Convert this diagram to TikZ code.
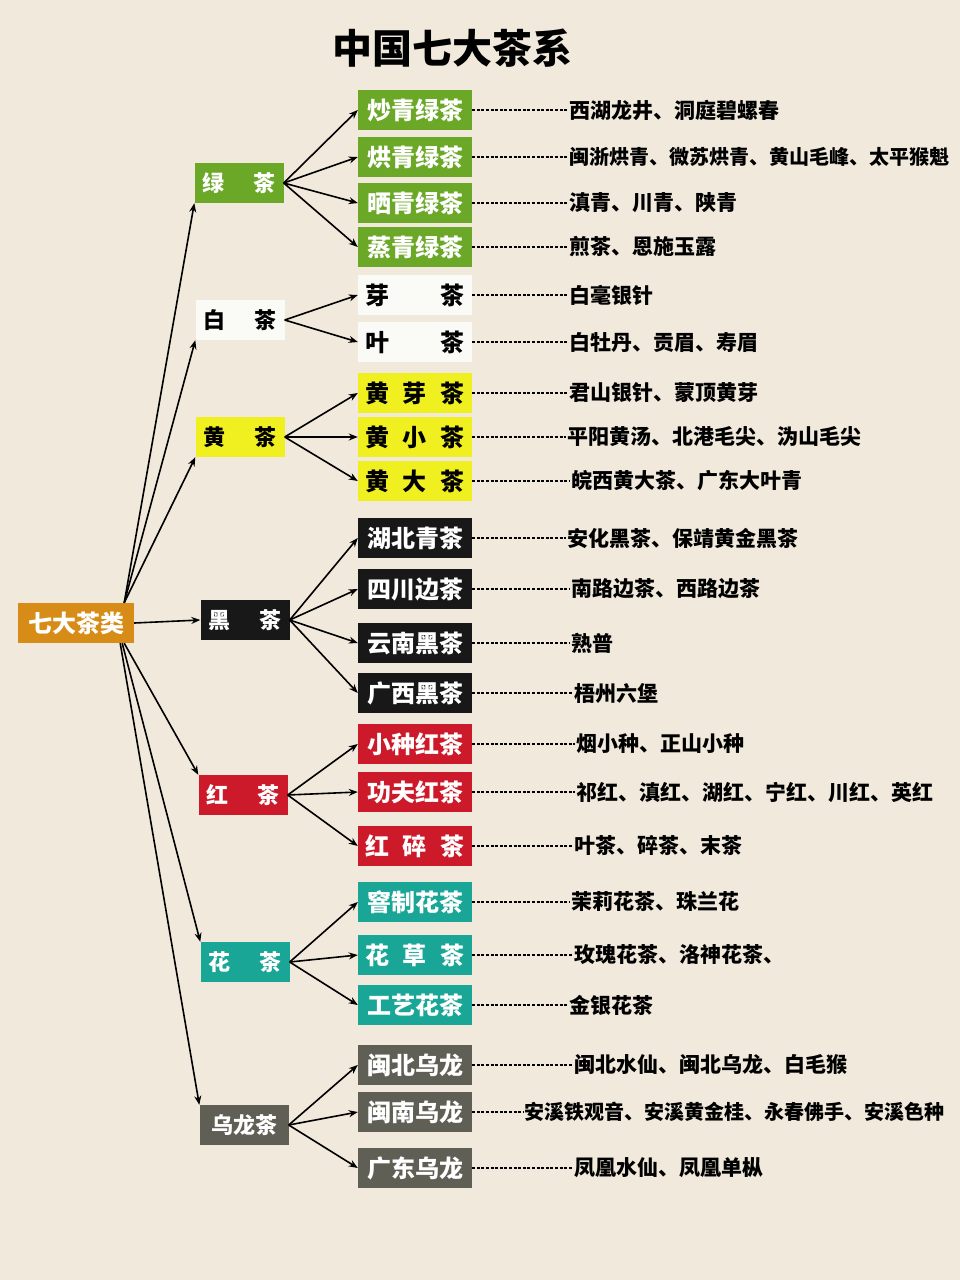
\documentclass[tikz,border=0pt]{standalone}
\usepackage{fontspec}
\setmainfont{Noto Sans CJK SC}
\usepackage{xcolor}
\usepackage{tikz}
\usetikzlibrary{calc,arrows.meta}

\definecolor{paper}{RGB}{240,233,220}
\definecolor{rootorange}{RGB}{214,140,22}
\definecolor{teagreen}{RGB}{108,168,40}
\definecolor{teawhite}{RGB}{250,250,246}
\definecolor{teayellow}{RGB}{240,240,32}
\definecolor{teablack}{RGB}{24,24,24}
\definecolor{teared}{RGB}{204,26,42}
\definecolor{teateal}{RGB}{26,166,150}
\definecolor{teagray}{RGB}{96,95,86}

\newcommand{\spreadcat}[1]{\makebox[74pt]{#1}}
\newcommand{\spreadsub}[1]{\makebox[100pt]{#1}}

\tikzset{
    catbox/.style 2 args={fill=#1, text=#2, inner sep=0pt, minimum width=89pt, minimum height=40pt,
        font=\bfseries\fontsize{22}{22}\selectfont},
    subbox/.style 2 args={fill=#1, text=#2, inner sep=0pt, minimum width=114pt, minimum height=40pt,
        font=\bfseries\fontsize{24}{24}\selectfont},
    kind/.style={anchor=west, inner sep=1pt, font=\bfseries\fontsize{21}{21}\selectfont},
    branch/.style={-{Stealth[length=9pt,width=7pt]}, line width=1.6pt},
    leader/.style={dash pattern=on 3pt off 1.6pt, line width=1.8pt}
}

\begin{document}
\begin{tikzpicture}[x=1pt, y=-1pt]
        \fill[paper] (0,0) rectangle (960,1280);
        \useasboundingbox (0,0) rectangle (960,1280);

        \node[font=\bfseries\fontsize{40}{40}\selectfont] (title) at (452,48) {中国七大茶系};

        \node[catbox={rootorange}{white}, minimum width=116pt, font=\bfseries\fontsize{24}{24}\selectfont] (root) at (76,623) {七大茶类};

        % categories
        \node[catbox={teagreen}{white}] (cG) at (239,183) {\spreadcat{绿\hfill 茶}};
        \node[catbox={teawhite}{black}] (cW) at (240,320) {\spreadcat{白\hfill 茶}};
        \node[catbox={teayellow}{black}] (cY) at (240,437) {\spreadcat{黄\hfill 茶}};
        \node[catbox={teablack}{white}] (cK) at (245,620) {\spreadcat{黑\hfill 茶}};
        \node[catbox={teared}{white}] (cR) at (243,795) {\spreadcat{红\hfill 茶}};
        \node[catbox={teateal}{white}] (cF) at (245,962) {\spreadcat{花\hfill 茶}};
        \node[catbox={teagray}{white}] (cO) at (244,1125) {乌龙茶};

        \draw[branch] ([xshift=-10pt]root.north east) -- (cG.south west);
        \draw[branch] ([xshift=-10pt]root.north east) -- (cW.south west);
        \draw[branch] ([xshift=-10pt]root.north east) -- (cY.south west);
        \draw[branch] (root.east) -- (cK.west);
        \draw[branch] ([xshift=-10pt]root.south east) -- (cR.north west);
        \draw[branch] ([xshift=-12pt]root.south east) -- (cF.north west);
        \draw[branch] ([xshift=-14pt]root.south east) -- (cO.north west);

        % sub kinds
        \node[subbox={teagreen}{white}] (sG1) at (415,110) {炒青绿茶};
        \node[subbox={teagreen}{white}] (sG2) at (415,157) {烘青绿茶};
        \node[subbox={teagreen}{white}] (sG3) at (415,203) {晒青绿茶};
        \node[subbox={teagreen}{white}] (sG4) at (415,247) {蒸青绿茶};
        \node[subbox={teawhite}{black}] (sW1) at (415,295) {\spreadsub{芽\hfill 茶}};
        \node[subbox={teawhite}{black}] (sW2) at (415,342) {\spreadsub{叶\hfill 茶}};
        \node[subbox={teayellow}{black}] (sY1) at (415,393) {\spreadsub{黄\hfill 芽\hfill 茶}};
        \node[subbox={teayellow}{black}] (sY2) at (415,437) {\spreadsub{黄\hfill 小\hfill 茶}};
        \node[subbox={teayellow}{black}] (sY3) at (415,481) {\spreadsub{黄\hfill 大\hfill 茶}};
        \node[subbox={teablack}{white}] (sK1) at (415,538) {湖北青茶};
        \node[subbox={teablack}{white}] (sK2) at (415,589) {四川边茶};
        \node[subbox={teablack}{white}] (sK3) at (415,643) {云南黑茶};
        \node[subbox={teablack}{white}] (sK4) at (415,693) {广西黑茶};
        \node[subbox={teared}{white}] (sR1) at (415,744) {小种红茶};
        \node[subbox={teared}{white}] (sR2) at (415,792) {功夫红茶};
        \node[subbox={teared}{white}] (sR3) at (415,846) {\spreadsub{红\hfill 碎\hfill 茶}};
        \node[subbox={teateal}{white}] (sF1) at (415,902) {窨制花茶};
        \node[subbox={teateal}{white}] (sF2) at (415,955) {\spreadsub{花\hfill 草\hfill 茶}};
        \node[subbox={teateal}{white}] (sF3) at (415,1005) {工艺花茶};
        \node[subbox={teagray}{white}] (sO1) at (415,1065) {闽北乌龙};
        \node[subbox={teagray}{white}] (sO2) at (415,1112) {闽南乌龙};
        \node[subbox={teagray}{white}] (sO3) at (415,1168) {广东乌龙};

        \draw[branch] (cG.east) -- (sG1.west);
        \draw[branch] (cG.east) -- (sG2.west);
        \draw[branch] (cG.east) -- (sG3.west);
        \draw[branch] (cG.east) -- (sG4.west);
        \draw[branch] (cW.east) -- (sW1.west);
        \draw[branch] (cW.east) -- (sW2.west);
        \draw[branch] (cY.east) -- (sY1.west);
        \draw[branch] (cY.east) -- (sY2.west);
        \draw[branch] (cY.east) -- (sY3.west);
        \draw[branch] (cK.east) -- (sK1.west);
        \draw[branch] (cK.east) -- (sK2.west);
        \draw[branch] (cK.east) -- (sK3.west);
        \draw[branch] (cK.east) -- (sK4.west);
        \draw[branch] (cR.east) -- (sR1.west);
        \draw[branch] (cR.east) -- (sR2.west);
        \draw[branch] (cR.east) -- (sR3.west);
        \draw[branch] (cF.east) -- (sF1.west);
        \draw[branch] (cF.east) -- (sF2.west);
        \draw[branch] (cF.east) -- (sF3.west);
        \draw[branch] (cO.east) -- (sO1.west);
        \draw[branch] (cO.east) -- (sO2.west);
        \draw[branch] (cO.east) -- (sO3.west);

        % famous teas
        \node[kind] (tG1) at (568,110) {西湖龙井、洞庭碧螺春};
        \node[kind, font=\bfseries\fontsize{20}{20}\selectfont] (tG2) at (568,157) {闽浙烘青、微苏烘青、黄山毛峰、太平猴魁};
        \node[kind] (tG3) at (568,203) {滇青、川青、陕青};
        \node[kind] (tG4) at (568,247) {煎茶、恩施玉露};
        \node[kind] (tW1) at (568,295) {白毫银针};
        \node[kind] (tW2) at (568,342) {白牡丹、贡眉、寿眉};
        \node[kind] (tY1) at (568,393) {君山银针、蒙顶黄芽};
        \node[kind] (tY2) at (566,437) {平阳黄汤、北港毛尖、沩山毛尖};
        \node[kind] (tY3) at (570,481) {皖西黄大茶、广东大叶青};
        \node[kind] (tK1) at (566,538) {安化黑茶、保靖黄金黑茶};
        \node[kind] (tK2) at (570,589) {南路边茶、西路边茶};
        \node[kind] (tK3) at (570,643) {熟普};
        \node[kind] (tK4) at (573,693) {梧州六堡};
        \node[kind] (tR1) at (575,744) {烟小种、正山小种};
        \node[kind] (tR2) at (575,792) {祁红、滇红、湖红、宁红、川红、英红};
        \node[kind] (tR3) at (573,846) {叶茶、碎茶、末茶};
        \node[kind] (tF1) at (570,902) {茉莉花茶、珠兰花};
        \node[kind] (tF2) at (573,955) {玫瑰花茶、洛神花茶、};
        \node[kind] (tF3) at (568,1005) {金银花茶};
        \node[kind] (tO1) at (573,1065) {闽北水仙、闽北乌龙、白毛猴};
        \node[kind, font=\bfseries\fontsize{20}{20}\selectfont] (tO2) at (523,1112) {安溪铁观音、安溪黄金桂、永春佛手、安溪色种};
        \node[kind] (tO3) at (573,1168) {凤凰水仙、凤凰单枞};

        \foreach \k in {G1,G2,G3,G4,W1,W2,Y1,Y2,Y3,K1,K2,K3,K4,R1,R2,R3,F1,F2,F3,O1,O2,O3}
            \draw[leader] (s\k.east) -- (t\k.west);
    \end{tikzpicture}
\end{document}
